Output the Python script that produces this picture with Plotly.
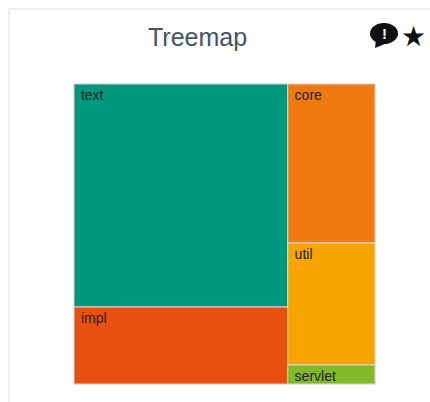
import plotly.graph_objects as go

W, H = 430, 402
ids = ["left", "right", "text", "impl", "core", "util", "servlet"]
labels = ["", "", "text", "impl", "core", "util", "servlet"]
parents = ["", "", "left", "left", "right", "right", "right"]
values = [63900, 26090, 47500, 16400, 13830, 10610, 1650]
colors = ["#009780", "#F07A10", "#009780", "#E8500F", "#F07A10", "#F7A400", "#82B928"]
title = "Treemap"

def px(x): return x / W
def py(y): return 1 - y / H

fig = go.Figure(go.Treemap(
    ids=ids,
    labels=labels,
    parents=parents,
    values=values,
    branchvalues="total",
    sort=False,
    marker=dict(colors=colors, line=dict(color="#d8d8d8", width=1), pad=dict(t=0, l=0, r=0, b=0)),
    texttemplate="&nbsp;%{label}",
    textposition="top left",
    textfont=dict(family="Liberation Sans", size=14, color="#222222"),
    tiling=dict(packing="slice-dice", pad=0),
    domain=dict(x=[px(74), px(375)], y=[py(384), py(84)]),
    pathbar=dict(visible=False),
    hoverinfo="label+value",
))

fig.update_layout(
    width=W, height=H,
    margin=dict(l=0, r=0, t=0, b=0),
    paper_bgcolor="white",
    showlegend=False,
    uniformtext=dict(minsize=14, mode="show"),
    shapes=[
        dict(type="line", xref="paper", yref="paper", x0=px(9), x1=px(9), y0=0, y1=py(9),
             line=dict(color="#eeeeee", width=2)),
        dict(type="line", xref="paper", yref="paper", x0=px(9), x1=1, y0=py(9), y1=py(9),
             line=dict(color="#eeeeee", width=2)),
        dict(type="circle", xref="paper", yref="paper", x0=px(370), x1=px(398), y0=py(44), y1=py(23),
             fillcolor="#111111", line=dict(width=0)),
        dict(type="path", xref="paper", yref="paper",
             path=f"M {px(376)} {py(40)} L {px(375)} {py(48)} L {px(387)} {py(43)} Z",
             fillcolor="#111111", line=dict(width=0)),
    ],
    annotations=[
        dict(text=title, xref="paper", yref="paper", x=px(197), y=py(37), xanchor="center", yanchor="middle",
             showarrow=False, font=dict(family="Liberation Sans", size=25, color="#3f5468")),
        dict(text="<b>!</b>", xref="paper", yref="paper", x=px(384), y=py(33), xanchor="center", yanchor="middle",
             showarrow=False, font=dict(family="Liberation Sans", size=15, color="white")),
        dict(text="★", xref="paper", yref="paper", x=px(413.5), y=py(36), xanchor="center", yanchor="middle",
             showarrow=False, font=dict(family="DejaVu Sans", size=28, color="#111111")),
    ],
)
fig.write_html("out.html", config=dict(displayModeBar=False),
               post_script="document.body.style.margin='0';document.body.style.overflow='hidden';")
